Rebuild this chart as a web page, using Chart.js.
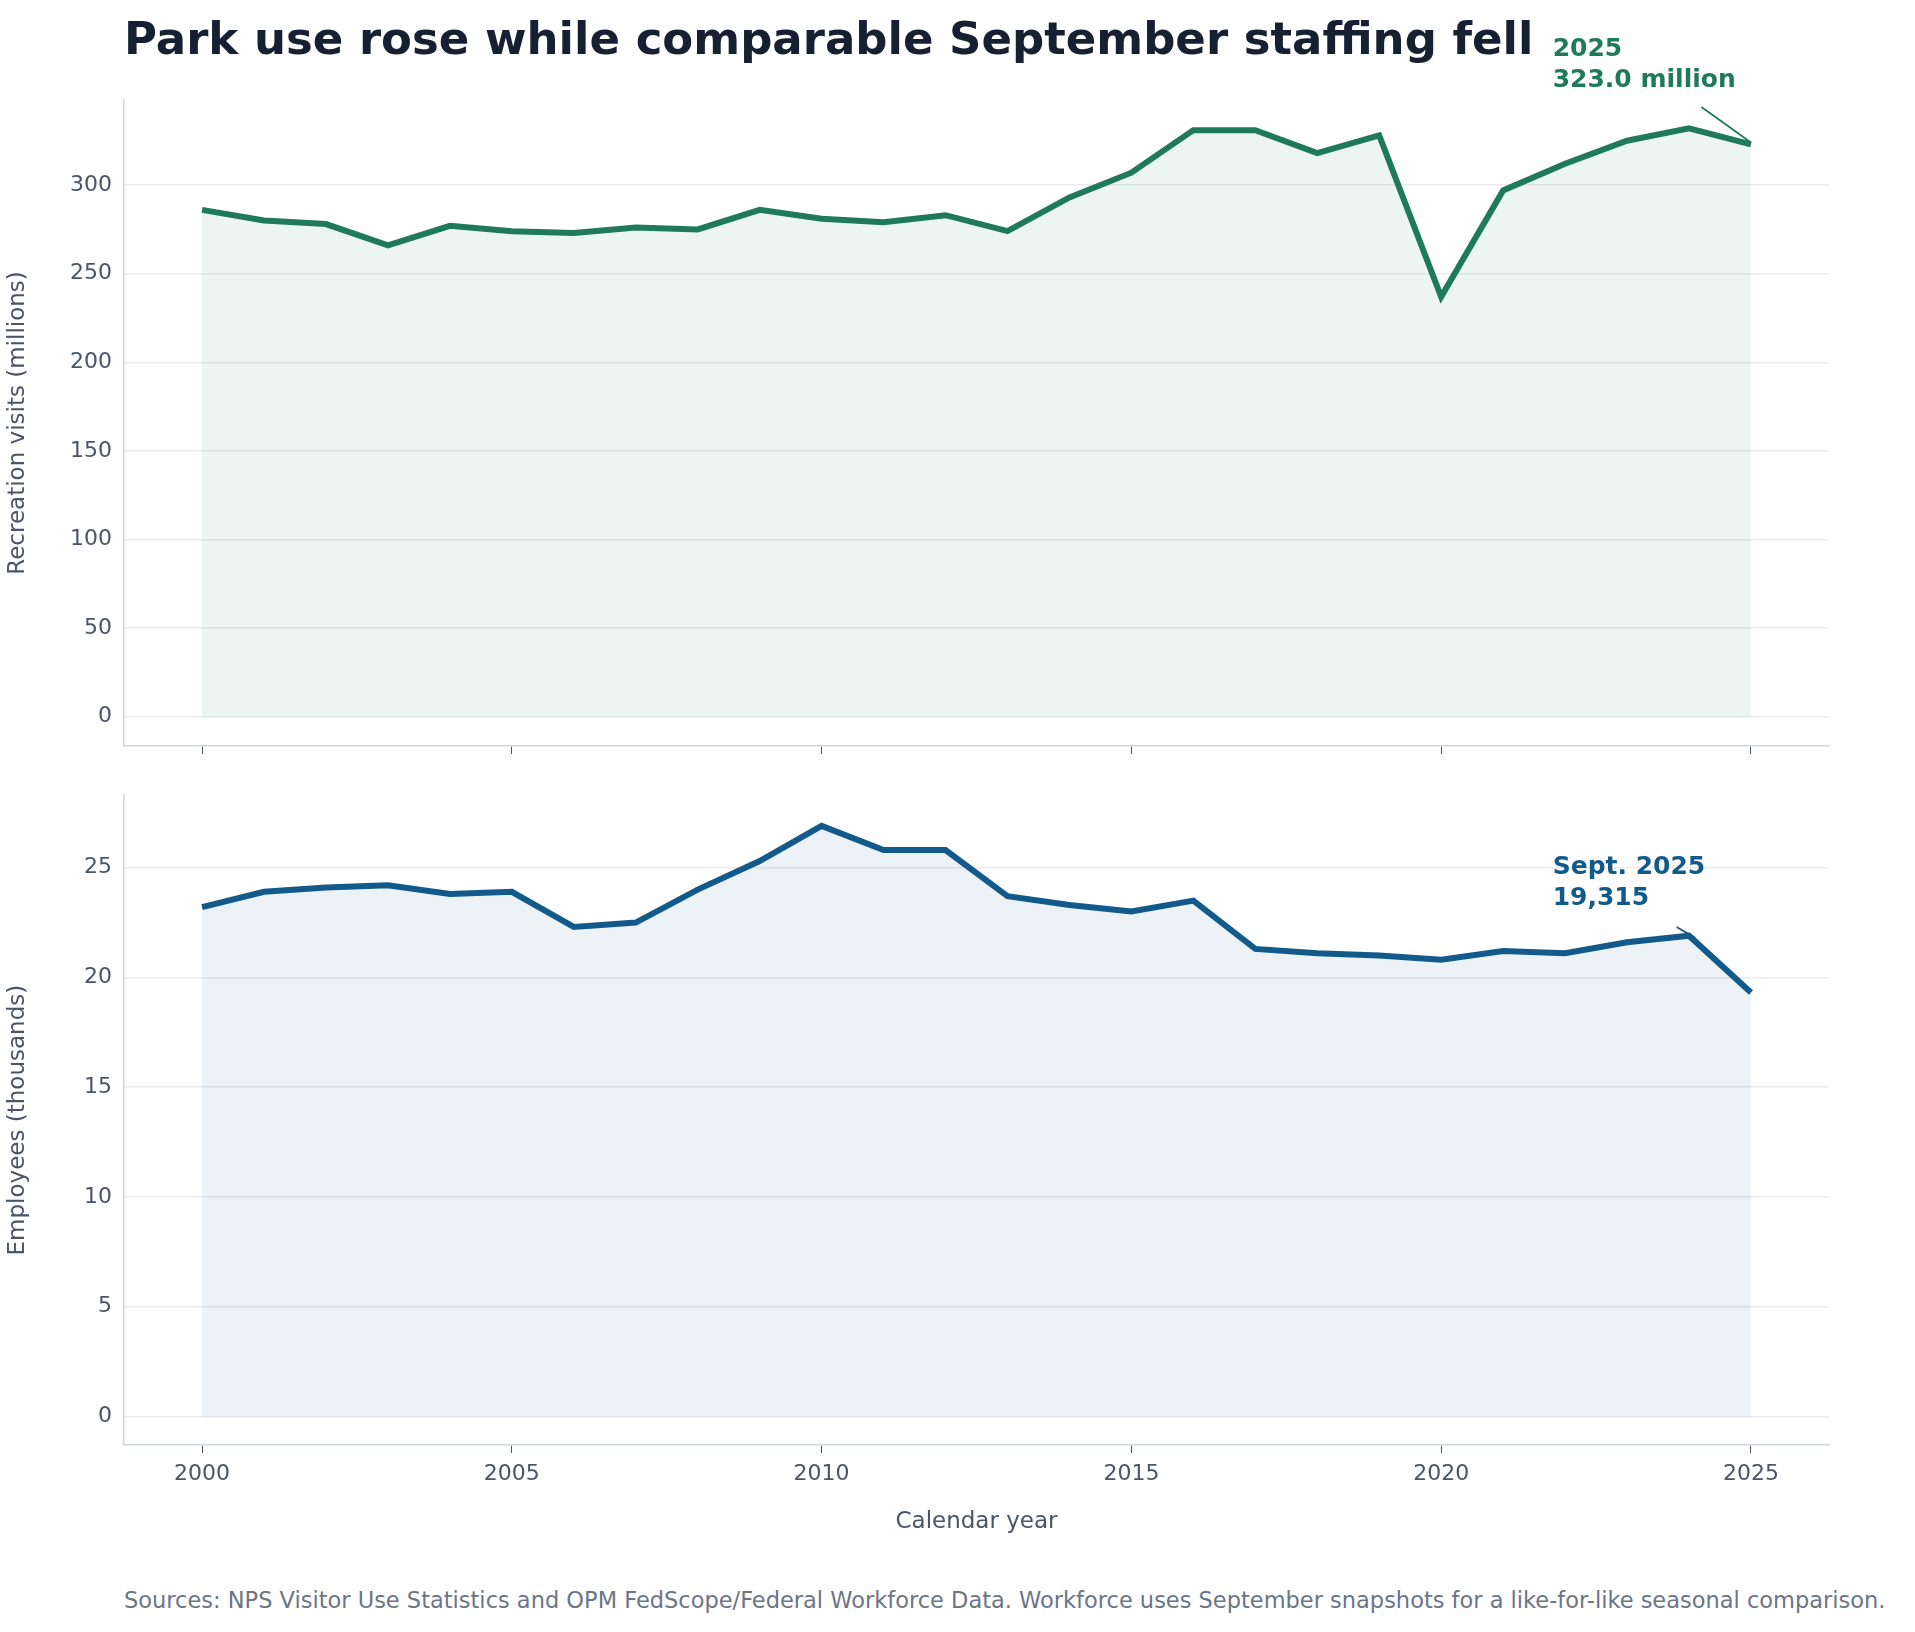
<!DOCTYPE html>
<html><head><meta charset="utf-8">
<script src="https://cdn.jsdelivr.net/npm/chart.js@4"></script>
<style>
body{margin:0;background:#fff;width:1915px;height:1632px;position:relative;font-family:"DejaVu Sans",sans-serif;overflow:hidden}
canvas{position:absolute;left:0}
#title{position:absolute;left:124px;top:12px;font-size:45px;font-weight:bold;color:#172033;z-index:2}
#src{position:absolute;left:124px;top:1587px;font-size:22.5px;color:#6b7587}
</style></head><body>
<div id="title">Park use rose while comparable September staffing fell</div>
<canvas id="c1" width="1915" height="780" style="top:0px"></canvas>
<canvas id="c2" width="1915" height="770" style="top:770px"></canvas>
<div id="src">Sources: NPS Visitor Use Statistics and OPM FedScope/Federal Workforce Data. Workforce uses September snapshots for a like-for-like seasonal comparison.</div>
<script>
const years = [2000,2001,2002,2003,2004,2005,2006,2007,2008,2009,2010,2011,2012,2013,2014,2015,2016,2017,2018,2019,2020,2021,2022,2023,2024,2025];
const visits = [286,280,278,266,277,274,273,276,275,286,281,279,283,274,293,307,331,331,318,328,237,297,312,325,332,323];
const staff = [23.2,23.9,24.1,24.2,23.8,23.9,22.3,22.5,24.0,25.3,26.9,25.8,25.8,23.7,23.3,23.0,23.5,21.3,21.1,21.0,20.8,21.2,21.1,21.6,21.9,19.315];
const xTicks = [2000,2005,2010,2015,2020,2025];

const green = '#1f7a5c', blue = '#135a8c';
const tickColor = '#4a5568', axisColor = '#cfd4dd', gridColor = '#e8ebef';
const font = {family:'DejaVu Sans', size:22};

function makeChart(id, data, color, fill, yMin, yMax, yStep, yTitle, showXLabels, padTop, xHeight, note) {
  const annot = {
    id:'annot',
    afterDraw(c){
      const x = c.scales.x, y = c.scales.y, g = c.ctx;
      g.save();
      g.strokeStyle = color; g.lineWidth = 1.8;
      g.beginPath();
      g.moveTo(x.getPixelForValue(note.l[0]), y.getPixelForValue(note.l[1]));
      g.lineTo(x.getPixelForValue(note.l[2]), y.getPixelForValue(note.l[3]));
      g.stroke();
      g.fillStyle = color; g.font = 'bold 25px DejaVu Sans'; g.textBaseline = 'alphabetic';
      note.lines.forEach((t,i)=>g.fillText(t, x.getPixelForValue(note.x), y.getPixelForValue(note.y) + i*31));
      g.restore();
    }
  };
  return new Chart(document.getElementById(id), {
    type:'line',
    data:{datasets:[{data:years.map((yr,i)=>({x:yr,y:data[i]})), borderColor:color, borderWidth:6,
      backgroundColor:fill, fill:'origin', pointRadius:0, tension:0}]},
    options:{
      responsive:false, animation:false, devicePixelRatio:1,
      layout:{padding:{top:padTop,right:86,left:0,bottom:0}},
      plugins:{legend:{display:false}, tooltip:{enabled:false}},
      scales:{
        x:{type:'linear', min:1998.74, max:2026.26,
          afterBuildTicks:s=>{s.ticks = xTicks.map(v=>({value:v}));},
          afterFit:s=>{s.height = xHeight;},
          grid:{display:true, drawOnChartArea:false, tickLength:8, color:tickColor},
          border:{color:axisColor, width:1.5},
          ticks:{display:showXLabels, color:tickColor, font, padding:8, callback:v=>String(v)},
          title:{display:showXLabels, text:'Calendar year', color:tickColor, font:{family:'DejaVu Sans', size:23}, padding:{top:2}}
        },
        y:{min:yMin, max:yMax,
          afterBuildTicks:s=>{const t=[];for(let v=0;v<=yMax;v+=yStep)t.push({value:v});s.ticks=t;},
          afterFit:s=>{s.width = 124;},
          grid:{color:gridColor, lineWidth:1.5, tickLength:0},
          border:{color:axisColor, width:1.5},
          ticks:{color:tickColor, font, padding:12},
          title:{display:true, text:yTitle, color:tickColor, font:{family:'DejaVu Sans', size:23}, padding:{bottom:6}}
        }
      }
    },
    plugins:[annot]
  });
}

makeChart('c1', visits, green, 'rgba(31,122,92,0.08)', -16.5, 348, 50, 'Recreation visits (millions)', false, 100, 34,
  {x:2021.8, y:373, lines:['2025','323.0 million'], l:[2024.2,344,2025,324]});
makeChart('c2', staff, blue, 'rgba(19,90,140,0.08)', -1.3, 28.3, 5, 'Employees (thousands)', true, 13, 95,
  {x:2021.8, y:24.7, lines:['Sept. 2025','19,315'], l:[2023.8,22.3,2024.1,21.8]});
</script>
</body></html>
